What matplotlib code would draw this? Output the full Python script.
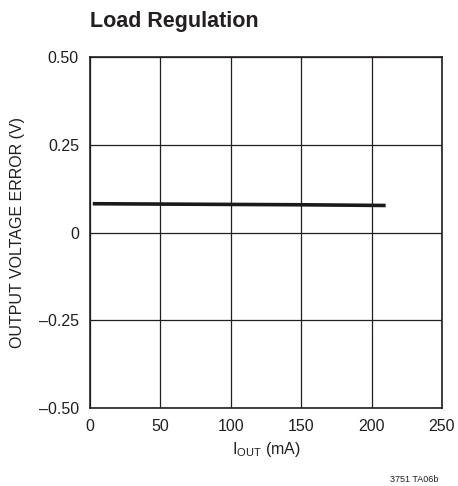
import matplotlib
matplotlib.use('Agg')
import matplotlib.pyplot as plt

# load regulation curve
i_out = [2, 50, 100, 150, 210]
v_err = [0.082, 0.081, 0.080, 0.079, 0.077]

x_ticks = [0, 50, 100, 150, 200, 250]
y_ticks = [-0.50, -0.25, 0, 0.25, 0.50]
y_labels = ['\u20130.50', '\u20130.25', '0', '0.25', '0.50']

plt.rcParams['font.family'] = ['Liberation Sans', 'DejaVu Sans']
plt.rcParams['mathtext.fontset'] = 'custom'
plt.rcParams['mathtext.rm'] = 'Liberation Sans'

fig = plt.figure(figsize=(4.58, 4.86), dpi=100)
ax = fig.add_axes([0.1965, 0.1605, 0.7685, 0.7222])

ax.plot(i_out, v_err, color='#1a1a1a', lw=2.6, solid_capstyle='butt')

ax.set_xlim(0, 250)
ax.set_ylim(-0.5, 0.5)
ax.set_xticks(x_ticks)
ax.set_yticks(y_ticks)
ax.set_yticklabels(y_labels)
ax.tick_params(length=0, labelsize=11.5, colors='#231f20')
ax.tick_params(axis='x', pad=8)
ax.tick_params(axis='y', pad=8)
ax.grid(True, color='#231f20', lw=0.9)
for s in ax.spines.values():
    s.set_color('#231f20')
    s.set_linewidth(1.2)

ax.set_xlabel(r'I$_{\mathrm{OUT}}$ (mA)', fontsize=11.5, color='#231f20', labelpad=4)
ax.set_ylabel('OUTPUT VOLTAGE ERROR (V)', fontsize=11.5, color='#231f20', labelpad=10)

fig.text(90 / 458, 1 - 22 / 486, 'Load Regulation', fontsize=15.5, fontweight='bold',
         color='#231f20', va='center', ha='left')
fig.text(438 / 458, 1 - 479 / 486, '3751 TA06b', fontsize=6.5, color='#231f20',
         va='center', ha='right')

fig.savefig('out.png', dpi=100)
